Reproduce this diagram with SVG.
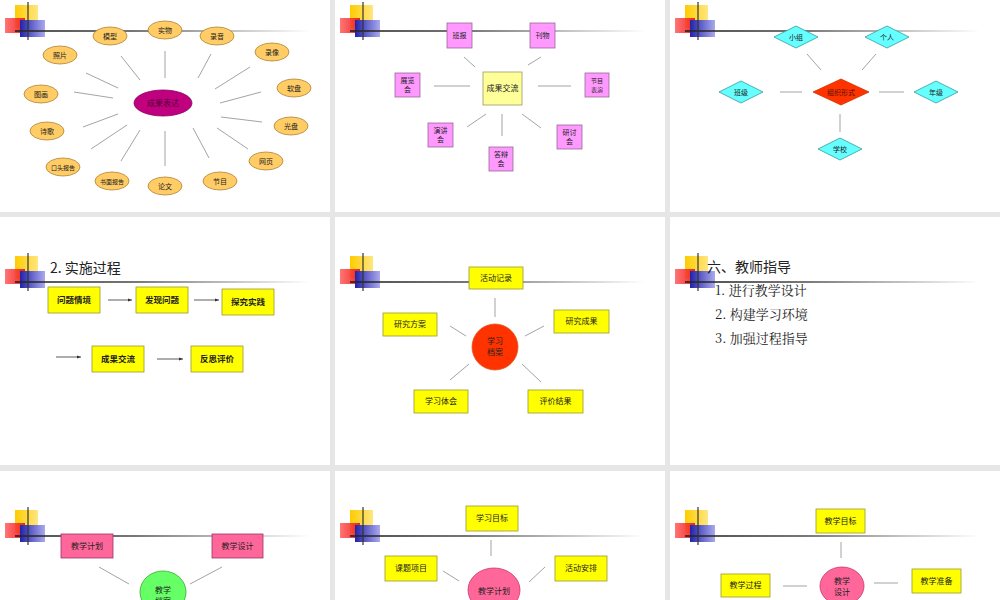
<svg xmlns="http://www.w3.org/2000/svg" xmlns:xlink="http://www.w3.org/1999/xlink" width="1000" height="600" viewBox="0 0 1000 600">
<style>
text{font-family:"Noto Sans CJK SC","Liberation Sans",sans-serif;fill:#222;text-anchor:middle}
.s{font-size:7px}.m{font-size:8px}.b{font-size:8.5px;font-weight:bold}
.ell{fill:#ffcc66;stroke:#b08030;stroke-width:.8}
.pk{fill:#ff99ff;stroke:#996699;stroke-width:.8}
.dm{fill:#66ffff;stroke:#339999;stroke-width:.8}
.yb{fill:#ffff00;stroke:#999933;stroke-width:.8}
.rb{fill:#ff6699;stroke:#993366;stroke-width:.8}
.c line{stroke:#999;stroke-width:.9}
.ar line{stroke:#333;stroke-width:.8;marker-end:url(#ah)}
.t{font-family:"Noto Sans CJK SC",sans-serif;font-size:14px;text-anchor:start}
.li{font-family:"Noto Serif CJK SC","Noto Sans CJK SC",serif;font-size:13px;text-anchor:start}
</style>
<defs>
<marker id="ah" markerWidth="5" markerHeight="4" refX="5" refY="2" orient="auto"><path d="M0,0 L5,2 L0,4z" fill="#333"/></marker>
<linearGradient id="hl" x1="0" x2="1"><stop offset="0" stop-color="#222"/><stop offset=".4" stop-color="#555"/><stop offset="1" stop-color="#fff"/></linearGradient>
<linearGradient id="yg" x1="0" x2="1"><stop offset="0" stop-color="#ffcc00"/><stop offset="1" stop-color="#ffe680"/></linearGradient>
<linearGradient id="rg" x1="0" x2="1"><stop offset="0" stop-color="#ff6666"/><stop offset="1" stop-color="#ee1111"/></linearGradient>
<linearGradient id="bg" x1="0" x2="1"><stop offset="0" stop-color="#2222aa"/><stop offset="1" stop-color="#aaaaee"/></linearGradient>
<g id="logo">
<rect x="15" y="-26" width="23" height="23" fill="url(#yg)"/>
<rect x="5" y="-13" width="20" height="15" fill="url(#rg)" opacity=".9"/>
<rect x="20" y="-11" width="25" height="17" fill="url(#bg)"/>
<rect x="15" y="-0.8" width="295" height="1.6" fill="url(#hl)"/>
<line x1="28" y1="-29" x2="28" y2="9" stroke="#333" stroke-width="1.2"/>
</g>
</defs>
<rect width="1000" height="600" fill="#e6e6e6"/>
<rect x="0" y="0" width="330" height="212" fill="#fff"/>
<rect x="335" y="0" width="330" height="212" fill="#fff"/>
<rect x="670" y="0" width="330" height="212" fill="#fff"/>
<rect x="0" y="217" width="330" height="248" fill="#fff"/>
<rect x="335" y="217" width="330" height="248" fill="#fff"/>
<rect x="670" y="217" width="330" height="248" fill="#fff"/>
<rect x="0" y="471" width="330" height="129" fill="#fff"/>
<rect x="335" y="471" width="330" height="129" fill="#fff"/>
<rect x="670" y="471" width="330" height="129" fill="#fff"/>
<use xlink:href="#logo" transform="translate(0,31)"/>
<use xlink:href="#logo" transform="translate(335,31)"/>
<use xlink:href="#logo" transform="translate(670,31)"/>
<use xlink:href="#logo" transform="translate(0,282)"/>
<use xlink:href="#logo" transform="translate(335,282)"/>
<use xlink:href="#logo" transform="translate(670,282)"/>
<use xlink:href="#logo" transform="translate(0,536)"/>
<use xlink:href="#logo" transform="translate(335,536)"/>
<use xlink:href="#logo" transform="translate(670,536)"/>

<g id="connectors">
<g class="c">
<line x1="121" y1="56" x2="140" y2="80"/><line x1="165" y1="51" x2="165" y2="78"/><line x1="211" y1="54" x2="198" y2="78"/><line x1="250" y1="67" x2="215" y2="89"/><line x1="261" y1="92" x2="220" y2="103"/><line x1="221" y1="117" x2="262" y2="122"/><line x1="217" y1="128" x2="248" y2="149"/><line x1="193" y1="128" x2="209" y2="158"/><line x1="165" y1="131" x2="165" y2="166"/><line x1="140" y1="130" x2="121" y2="161"/><line x1="127" y1="125" x2="91" y2="149"/><line x1="118" y1="114" x2="83" y2="127"/><line x1="113" y1="98" x2="74" y2="92"/><line x1="118" y1="88" x2="86" y2="73"/>
<line x1="464" y1="57" x2="475" y2="67"/><line x1="541" y1="57" x2="528" y2="65"/><line x1="434" y1="86" x2="470" y2="86"/><line x1="538" y1="86" x2="571" y2="86"/><line x1="486" y1="114" x2="467" y2="127"/><line x1="502" y1="114" x2="502" y2="136"/><line x1="522" y1="114" x2="541" y2="128"/>
<line x1="807" y1="54" x2="821" y2="70"/><line x1="876" y1="54" x2="862" y2="70"/><line x1="780" y1="92" x2="802" y2="92"/><line x1="879" y1="92" x2="904" y2="92"/><line x1="840" y1="114" x2="840" y2="132"/>
<line x1="495" y1="298" x2="495" y2="317"/><line x1="450" y1="326" x2="466" y2="336"/><line x1="544" y1="326" x2="525" y2="336"/><line x1="469" y1="364" x2="450" y2="380"/><line x1="522" y1="364" x2="541" y2="382"/>
<line x1="99" y1="567" x2="129" y2="584"/><line x1="222" y1="567" x2="190" y2="584"/>
<line x1="491" y1="540" x2="491" y2="556"/><line x1="443" y1="571" x2="459" y2="581"/><line x1="545" y1="567" x2="529" y2="582"/>
<line x1="841" y1="542" x2="841" y2="558"/><line x1="783" y1="586" x2="807" y2="586"/><line x1="874" y1="583" x2="898" y2="583"/>
</g>
<g class="ar">
<line x1="108" y1="300" x2="132" y2="300"/><line x1="194" y1="300" x2="219" y2="300"/><line x1="56" y1="357" x2="81" y2="357"/><line x1="157" y1="359" x2="183" y2="359"/>
</g>
</g>

<g id="n-center1"><ellipse cx="163" cy="103" rx="29" ry="13" fill="#c0007f" stroke="#800060" stroke-width=".8"/><text x="163" y="106" class="m" style="fill:#550033">成果表达</text></g>
<g id="n-mx"><ellipse class="ell" cx="110" cy="36" rx="17" ry="9"/><text x="110" y="39" class="s">模型</text></g>
<g id="n-sw"><ellipse class="ell" cx="165" cy="30" rx="17" ry="9"/><text x="165" y="33" class="s">实物</text></g>
<g id="n-ly"><ellipse class="ell" cx="217" cy="36" rx="17" ry="9"/><text x="217" y="39" class="s">录音</text></g>
<g id="n-lx"><ellipse class="ell" cx="272" cy="52" rx="17" ry="9"/><text x="272" y="55" class="s">录像</text></g>
<g id="n-rp"><ellipse class="ell" cx="294" cy="88" rx="17" ry="9"/><text x="294" y="91" class="s">软盘</text></g>
<g id="n-gp"><ellipse class="ell" cx="291" cy="126" rx="17" ry="9"/><text x="291" y="129" class="s">光盘</text></g>
<g id="n-wy"><ellipse class="ell" cx="266" cy="161" rx="17" ry="9"/><text x="266" y="164" class="s">网页</text></g>
<g id="n-jm"><ellipse class="ell" cx="220" cy="181" rx="17" ry="9"/><text x="220" y="184" class="s">节目</text></g>
<g id="n-lw"><ellipse class="ell" cx="165" cy="186" rx="17" ry="9"/><text x="165" y="189" class="s">论文</text></g>
<g id="n-sm"><ellipse class="ell" cx="112" cy="181" rx="17" ry="9"/><text x="112" y="184" style="font-size:6px">书面报告</text></g>
<g id="n-kt"><ellipse class="ell" cx="63" cy="167" rx="17" ry="9"/><text x="63" y="170" style="font-size:6px">口头报告</text></g>
<g id="n-sg"><ellipse class="ell" cx="47" cy="131" rx="17" ry="9"/><text x="47" y="134" class="s">诗歌</text></g>
<g id="n-th"><ellipse class="ell" cx="41" cy="94" rx="17" ry="9"/><text x="41" y="97" class="s">图画</text></g>
<g id="n-zp"><ellipse class="ell" cx="60" cy="55" rx="17" ry="9"/><text x="60" y="58" class="s">照片</text></g>

<g id="n-center2"><rect x="483" y="72" width="39" height="33" fill="#ffff99" stroke="#999966" stroke-width=".8"/><text x="502.5" y="91" class="m">成果交流</text></g>
<g id="n-bb"><rect class="pk" x="447" y="23" width="25" height="25"/><text x="459.5" y="38" class="s">班报</text></g>
<g id="n-kw"><rect class="pk" x="530" y="23" width="25" height="25"/><text x="542.5" y="38" class="s">刊物</text></g>
<g id="n-zl"><rect class="pk" x="395" y="73" width="25" height="24"/><text x="407.5" y="83" class="s">展览</text><text x="407.5" y="92" class="s">会</text></g>
<g id="n-jb"><rect class="pk" x="585" y="73" width="24" height="24"/><text x="597" y="83" style="font-size:6px">节目</text><text x="597" y="92" style="font-size:6px">表演</text></g>
<g id="n-yj"><rect class="pk" x="428" y="123" width="25" height="24"/><text x="440.5" y="133" class="s">演讲</text><text x="440.5" y="142" class="s">会</text></g>
<g id="n-db"><rect class="pk" x="489" y="147" width="24" height="24"/><text x="501" y="157" class="s">答辩</text><text x="501" y="166" class="s">会</text></g>
<g id="n-yt"><rect class="pk" x="557" y="125" width="25" height="24"/><text x="569.5" y="135" class="s">研讨</text><text x="569.5" y="144" class="s">会</text></g>

<g id="n-center3"><polygon points="813,92 841,79 869,92 841,105" fill="#ff3300" stroke="#cc3300" stroke-width=".8"/><text x="841" y="95" class="s" style="fill:#551100">组织形式</text></g>
<g id="n-xz"><polygon class="dm" points="774,37 796,26 818,37 796,48"/><text x="796" y="40" class="s">小组</text></g>
<g id="n-gr"><polygon class="dm" points="865,37 887,26 909,37 887,48"/><text x="887" y="40" class="s">个人</text></g>
<g id="n-bj"><polygon class="dm" points="719,92 741,81 763,92 741,103"/><text x="741" y="95" class="s">班级</text></g>
<g id="n-nj"><polygon class="dm" points="914,92 936,81 958,92 936,103"/><text x="936" y="95" class="s">年级</text></g>
<g id="n-xx"><polygon class="dm" points="818,149 840,138 862,149 840,160"/><text x="840" y="152" class="s">学校</text></g>

<text x="50" y="273" class="t">2. 实施过程</text>
<g id="n-p1"><rect class="yb" x="48" y="287" width="52" height="26"/><text x="74" y="303" class="b">问题情境</text></g>
<g id="n-p2"><rect class="yb" x="136" y="287" width="52" height="26"/><text x="162" y="303" class="b">发现问题</text></g>
<g id="n-p3"><rect class="yb" x="222" y="289" width="52" height="26"/><text x="248" y="305" class="b">探究实践</text></g>
<g id="n-p4"><rect class="yb" x="92" y="346" width="52" height="26"/><text x="118" y="362" class="b">成果交流</text></g>
<g id="n-p5"><rect class="yb" x="191" y="346" width="52" height="26"/><text x="217" y="362" class="b">反思评价</text></g>

<g id="n-da"><circle cx="495" cy="347" r="23" fill="#ff3300" stroke="#dd5522" stroke-width=".8"/><text x="495" y="344" class="m">学习</text><text x="495" y="355" class="m">档案</text></g>
<g id="n-hd"><rect class="yb" x="469" y="267" width="54" height="22"/><text x="496" y="281" class="m">活动记录</text></g>
<g id="n-fa"><rect class="yb" x="383" y="313" width="54" height="23"/><text x="410" y="327" class="m">研究方案</text></g>
<g id="n-cg"><rect class="yb" x="554" y="310" width="55" height="23"/><text x="581.5" y="324" class="m">研究成果</text></g>
<g id="n-th2"><rect class="yb" x="414" y="390" width="54" height="23"/><text x="441" y="404" class="m">学习体会</text></g>
<g id="n-pj"><rect class="yb" x="528" y="390" width="55" height="23"/><text x="555.5" y="404" class="m">评价结果</text></g>

<text x="707" y="272" class="t">六、教师指导</text>
<text x="715" y="295" class="li">1. 进行教学设计</text>
<text x="715" y="319" class="li">2. 构建学习环境</text>
<text x="715" y="343" class="li">3. 加强过程指导</text>

<g id="n-jxda"><ellipse cx="163" cy="592" rx="23" ry="21" fill="#66ff66" stroke="#33aa33" stroke-width=".8"/><text x="163" y="593" class="m">教学</text><text x="163" y="604" class="m">档案</text></g>
<g id="n-jxjh"><rect class="rb" x="61" y="534" width="52" height="24"/><text x="87" y="549" class="m">教学计划</text></g>
<g id="n-jxsj"><rect class="rb" x="212" y="534" width="51" height="24"/><text x="237.5" y="549" class="m">教学设计</text></g>

<g id="n-jh"><ellipse cx="494" cy="590" rx="26" ry="22" fill="#ff6699" stroke="#cc3366" stroke-width=".8"/><text x="494" y="594" class="m">教学计划</text></g>
<g id="n-xxmb"><rect class="yb" x="466" y="506" width="52" height="25"/><text x="492" y="521" class="m">学习目标</text></g>
<g id="n-ktxm"><rect class="yb" x="385" y="556" width="52" height="25"/><text x="411" y="571" class="m">课题项目</text></g>
<g id="n-hdap"><rect class="yb" x="555" y="556" width="52" height="25"/><text x="581" y="571" class="m">活动安排</text></g>

<g id="n-sj"><ellipse cx="842" cy="586" rx="22" ry="19" fill="#ff6699" stroke="#cc3366" stroke-width=".8"/><text x="842" y="584" class="m">教学</text><text x="842" y="595" class="m">设计</text></g>
<g id="n-jxmb"><rect class="yb" x="816" y="509" width="49" height="24"/><text x="840.5" y="524" class="m">教学目标</text></g>
<g id="n-jxgc"><rect class="yb" x="721" y="574" width="49" height="23"/><text x="745.5" y="588" class="m">教学过程</text></g>
<g id="n-jxzb"><rect class="yb" x="912" y="569" width="49" height="24"/><text x="936.5" y="584" class="m">教学准备</text></g>
</svg>
